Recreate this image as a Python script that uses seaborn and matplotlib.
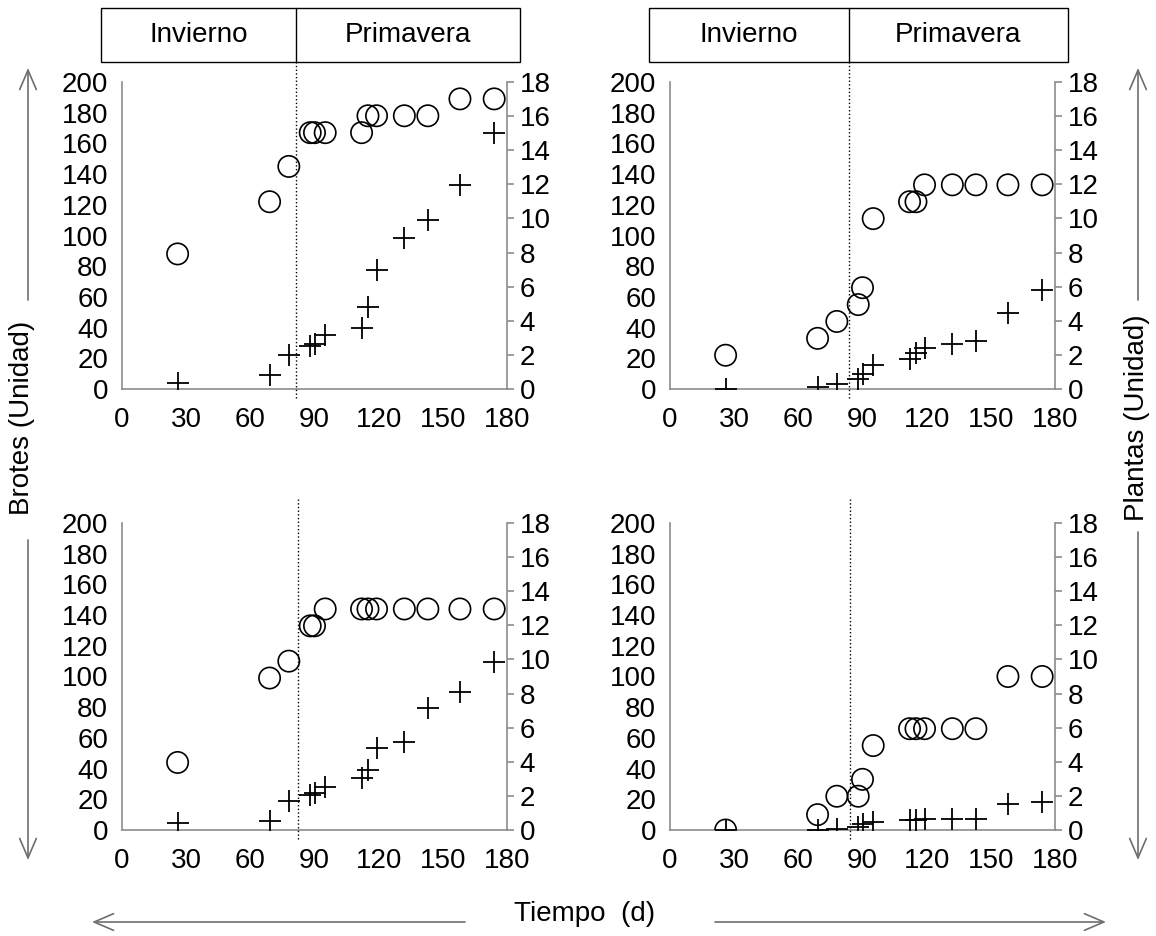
import numpy as np
import pandas as pd
import matplotlib.pyplot as plt
import seaborn as sns
from matplotlib.patches import Rectangle, FancyArrowPatch

sns.set_style('white')
plt.rcParams['font.family'] = ['Liberation Sans', 'DejaVu Sans']
plt.rcParams['text.color'] = 'black'
plt.rcParams['xtick.labelcolor'] = 'black'
plt.rcParams['ytick.labelcolor'] = 'black'

# dias de muestreo (comunes a los cuatro paneles)
dias = [26, 69, 78, 88, 90, 95, 112, 115, 119, 132, 143, 158, 174]

# brotes (eje izquierdo, circulos)
brotes_a = [88, 122, 145, 167, 167, 167, 167, 178, 178, 178, 178, 189, 189]
brotes_b = [22, 33, 44, 55, 66, 111, 122, 122, 133, 133, 133, 133, 133]
brotes_c = [44, 99, 110, 133, 133, 144, 144, 144, 144, 144, 144, 144, 144]
brotes_d = [0, 10, 22, 22, 33, 55, 66, 66, 66, 66, 66, 100, 100]

# plantas (eje derecho, cruces)
plantas_a = [0.34, 0.82, 2.0, 2.53, 2.63, 3.18, 3.55, 4.78, 6.98, 8.86, 9.88, 11.94, 15.0]
plantas_b = [0.0, 0.12, 0.31, 0.57, 0.86, 1.41, 1.75, 2.14, 2.39, 2.63, 2.82, 4.45, 5.81]
plantas_c = [0.39, 0.55, 1.70, 2.05, 2.19, 2.54, 3.03, 3.52, 4.79, 5.18, 7.14, 8.12, 9.84]
plantas_d = [0.0, 0.02, 0.05, 0.2, 0.33, 0.47, 0.6, 0.6, 0.65, 0.65, 0.65, 1.5, 1.65]

# inicio de primavera (linea punteada)
primavera = [81.5, 83.5, 82.5, 84]

x_ticks = [0, 30, 60, 90, 120, 150, 180]
y_izq = list(range(0, 201, 20))
y_der = list(range(0, 19, 2))

W, H = 1156, 936
fig = plt.figure(figsize=(W / 100, H / 100), dpi=100)

gris = '#8c8c8c'
fs = 20

posiciones = [
    (122, 82), (670, 82),
    (122, 523), (670, 523),
]
ancho_px, alto_px = 385, 307

paneles = [
    (brotes_a, plantas_a), (brotes_b, plantas_b),
    (brotes_c, plantas_c), (brotes_d, plantas_d),
]

for i, ((br, pl), (px, py)) in enumerate(zip(paneles, posiciones)):
    ax = fig.add_axes([px / W, 1 - (py + alto_px) / H, ancho_px / W, alto_px / H])
    ax2 = ax.twinx()

    df = pd.DataFrame({'dia': dias, 'brotes': br, 'plantas': pl})
    sns.scatterplot(data=df, x='dia', y='brotes', ax=ax, marker='o', s=235,
                    facecolors='none', edgecolor='black', linewidth=1.2, zorder=3)
    sns.scatterplot(data=df, x='dia', y='plantas', ax=ax2, marker='+', s=230,
                    color='black', linewidth=1.3, zorder=3)

    ax.set_xlim(0, 180)
    ax.set_ylim(0, 200)
    ax2.set_ylim(0, 18)
    ax.set_xticks(x_ticks)
    ax.set_yticks(y_izq)
    ax2.set_yticks(y_der)
    ax.set_xlabel('')
    ax.set_ylabel('')
    ax2.set_ylabel('')

    for s in ['top', 'right']:
        ax.spines[s].set_visible(False)
    for s in ['top', 'left', 'bottom']:
        ax2.spines[s].set_visible(False)
    for s in ['left', 'bottom']:
        ax.spines[s].set_color(gris)
        ax.spines[s].set_linewidth(1.2)
    ax2.spines['right'].set_color(gris)
    ax2.spines['right'].set_linewidth(1.2)

    ax.tick_params(axis='x', length=0, pad=13, labelsize=fs)
    ax.tick_params(axis='y', length=0, pad=10, labelsize=fs)
    ax2.tick_params(axis='y', length=5, width=1.2, color=gris, pad=4, labelsize=fs)

    # linea punteada de inicio de primavera
    arriba = 1.065 if i < 2 else 1.08
    ax2.axvline(primavera[i], ymin=-0.03, ymax=arriba, color='black',
                linestyle=':', linewidth=1.0, clip_on=False, zorder=1)

    # cuadro de estaciones en los paneles superiores
    if i < 2:
        xd = fig.transFigure.inverted().transform(ax.transData.transform((primavera[i], 0)))[0]
        x0 = (px - 21) / W
        x1 = (px + ancho_px + 13) / W
        y0 = 1 - 62 / H
        h = 54 / H
        fig.add_artist(Rectangle((x0, y0), x1 - x0, h, transform=fig.transFigure,
                                 fill=False, edgecolor='black', linewidth=1.0))
        fig.add_artist(plt.Line2D([xd, xd], [y0, y0 + h], transform=fig.transFigure,
                                  color='black', linewidth=1.0))
        fig.text((x0 + xd) / 2, y0 + h / 2, 'Invierno', ha='center', va='center', fontsize=fs)
        fig.text((xd + x1) / 2, y0 + h / 2, 'Primavera', ha='center', va='center', fontsize=fs)

# etiquetas de ejes y flechas
fig.text(22 / W, 1 - 418 / H, 'Brotes (Unidad)', rotation=90, ha='center', va='center', fontsize=fs)
fig.text(1137 / W, 1 - 418 / H, 'Plantas (Unidad)', rotation=90, ha='center', va='center', fontsize=fs)
fig.text(585 / W, 1 - 914 / H, 'Tiempo  (d)', ha='center', va='center', fontsize=fs)


def flecha_fig(x0, y0, x1, y1):
    fig.add_artist(FancyArrowPatch(
        (x0 / W, 1 - y0 / H), (x1 / W, 1 - y1 / H), transform=fig.transFigure,
        arrowstyle='->,head_length=0.7,head_width=0.3', mutation_scale=20,
        color='#6e6e6e', lw=1.2, shrinkA=0, shrinkB=0))


flecha_fig(28, 300, 28, 68)
flecha_fig(28, 540, 28, 860)
flecha_fig(1138, 300, 1138, 68)
flecha_fig(1138, 532, 1138, 860)
flecha_fig(465, 922, 92, 922)
flecha_fig(715, 922, 1106, 922)

fig.savefig('out.png', dpi=100)
